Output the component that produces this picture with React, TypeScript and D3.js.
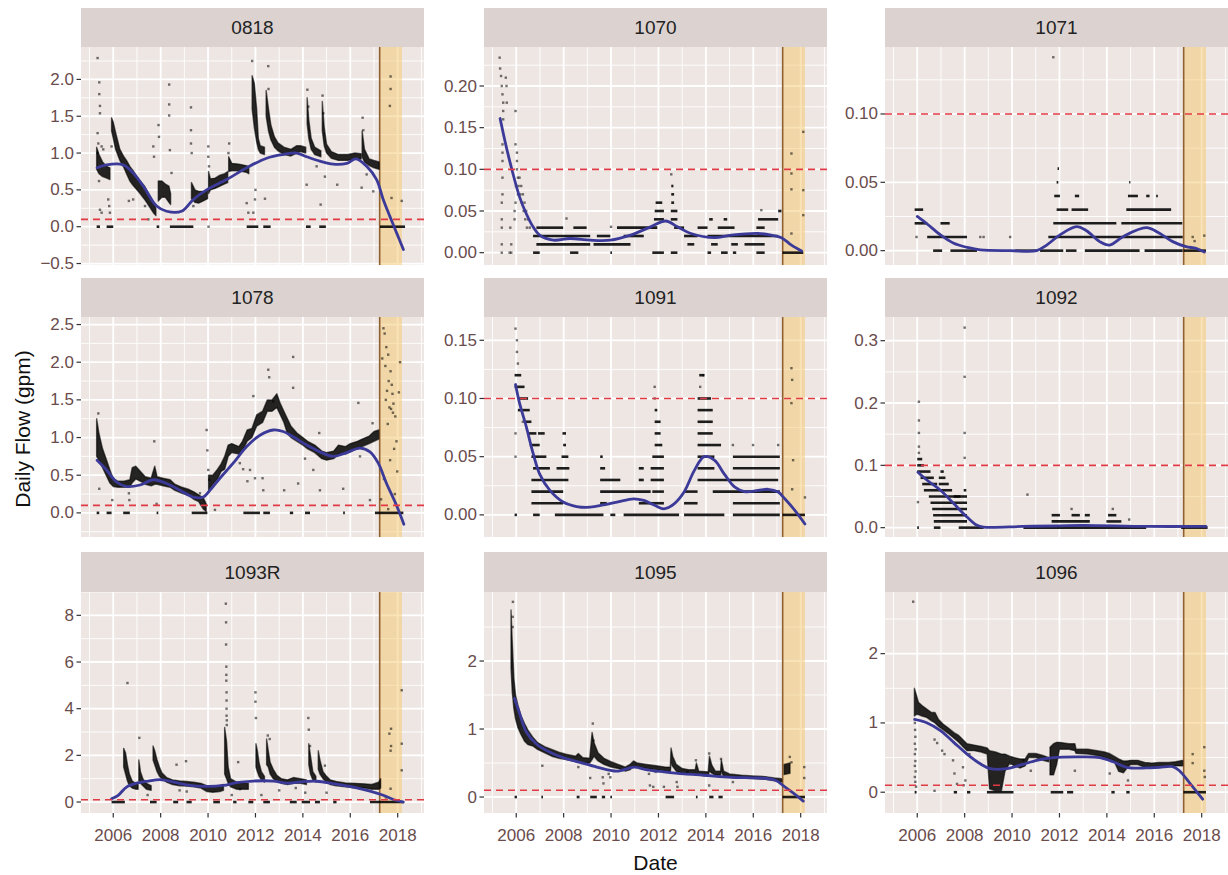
import React from 'react';
import * as d3 from 'd3';

type P = [number, number];
type B = [number, number, number];
type D = [number, number, number];

const X_TICKS = [2006, 2008, 2010, 2012, 2014, 2016, 2018];
const X_MINOR = [2005, 2007, 2009, 2011, 2013, 2015, 2017, 2019];
const BAND: [number, number] = [2017.24, 2018.18];
const THRESHOLD = 0.1;

// ---------- 0818 ----------
const smooth0818: P[] = [[2005.32,0.80],[2005.72,0.84],[2006.42,0.84],[2006.84,0.73],[2007.27,0.55],[2007.83,0.28],[2008.25,0.21],[2008.88,0.21],[2009.38,0.37],[2009.94,0.50],[2010.78,0.64],[2011.63,0.80],[2012.47,0.93],[2013.17,0.98],[2013.74,1.0],[2014.16,0.95],[2014.72,0.89],[2015.28,0.85],[2015.85,0.86],[2016.24,0.92],[2016.69,0.82],[2017.11,0.64],[2017.39,0.37],[2017.67,0.14],[2017.95,-0.08],[2018.24,-0.31]];
const cloud0818: B[][] = [
  [[2005.30,0.78,1.08],[2005.40,0.72,0.98],[2005.55,0.68,0.88],[2005.72,0.66,0.82],[2005.86,0.64,0.8]],
  [[2005.93,1.3,1.48],[2006.0,1.2,1.42],[2006.1,1.05,1.28],[2006.28,0.9,1.05],[2006.45,0.8,0.95],[2006.56,0.72,0.9],[2006.7,0.62,0.82],[2006.84,0.56,0.76],[2007.0,0.5,0.68],[2007.13,0.45,0.62],[2007.3,0.38,0.56],[2007.41,0.33,0.5],[2007.55,0.26,0.42],[2007.69,0.19,0.33],[2007.8,0.15,0.25]],
  [[2007.9,0.35,0.62],[2008.05,0.4,0.62],[2008.2,0.4,0.58],[2008.35,0.33,0.55],[2008.42,0.3,0.45]],
  [[2009.3,0.38,0.6],[2009.45,0.33,0.5],[2009.6,0.32,0.48],[2009.8,0.35,0.48],[2009.98,0.38,0.5]],
  [[2010.02,0.45,0.75],[2010.1,0.5,0.65],[2010.3,0.52,0.66],[2010.5,0.55,0.7],[2010.7,0.58,0.72],[2010.83,0.6,0.75]],
  [[2010.87,0.75,0.95],[2011.0,0.76,0.86],[2011.3,0.76,0.85],[2011.6,0.74,0.83],[2011.72,0.72,0.82]],
  [[2011.86,1.6,2.05],[2011.95,1.35,1.95],[2012.05,1.15,1.6],[2012.12,1.05,1.2],[2012.2,1.0,1.1],[2012.38,0.98,1.08]],
  [[2012.45,1.5,1.85],[2012.55,1.3,1.6],[2012.65,1.18,1.38],[2012.8,1.08,1.22],[2012.95,1.03,1.14],[2013.2,0.98,1.08],[2013.5,0.96,1.05],[2013.74,1.0,1.1],[2013.9,1.02,1.1],[2014.12,1.0,1.08]],
  [[2014.18,1.4,1.75],[2014.25,1.2,1.45],[2014.35,1.05,1.2],[2014.5,0.98,1.08],[2014.76,0.95,1.03]],
  [[2014.82,1.3,1.7],[2014.9,1.1,1.35],[2015.0,1.0,1.12],[2015.2,0.93,1.02],[2015.5,0.9,0.98],[2015.9,0.9,0.98],[2016.2,0.92,1.0],[2016.46,0.92,0.99]],
  [[2016.5,0.95,1.3],[2016.6,0.88,1.05],[2016.8,0.83,0.92],[2017.0,0.8,0.9],[2017.22,0.78,0.88]],
];
const points0818: P[] = [[2005.34,2.29],[2005.41,1.96],[2005.41,1.80],[2005.44,1.64],[2005.44,1.54],[2005.34,1.27],[2005.37,1.13],[2005.34,1.0],[2005.40,0.62],[2005.44,0.23],[2005.51,0.19],[2005.51,1.09],[2005.58,1.05],[2005.79,0.37],[2005.83,0.28],[2005.86,0.19],[2005.93,1.09],[2006.66,0.35],[2006.84,0.37],[2007.34,0.28],[2007.48,0.10],[2007.69,1.09],[2007.72,0.95],[2007.91,1.38],[2007.93,1.22],[2008.36,1.93],[2008.36,1.66],[2008.36,1.51],[2008.39,1.04],[2008.46,0.73],[2009.28,1.62],[2009.28,1.31],[2009.28,1.13],[2009.31,1.0],[2009.38,0.28],[2010.01,1.09],[2010.01,0.95],[2010.04,0.82],[2010.02,0.0],[2010.89,1.13],[2010.86,1.0],[2011.63,0.32],[2011.70,0.19],[2011.91,0.19],[2011.98,0.37],[2012.0,0.5],[2012.40,0.38],[2011.86,2.25],[2012.54,2.18],[2012.55,1.87],[2014.16,0.57],[2014.19,1.86],[2014.23,1.63],[2014.58,0.82],[2014.75,0.30],[2014.83,1.78],[2014.86,1.54],[2014.93,0.68],[2015.45,0.57],[2016.48,0.53],[2016.52,1.48],[2016.55,1.31],[2016.69,0.71],[2016.97,0.48],[2017.70,2.04],[2017.70,1.87],[2017.67,1.64],[2017.74,0.39],[2018.17,0.35]];
const dashes0818: D[] = [[0,2005.30,2005.44],[0,2005.72,2006.0],[0,2007.83,2007.94],[0,2008.39,2009.38],[0,2011.63,2012.12],[0,2012.33,2012.64],[0,2014.13,2014.33],[0,2014.69,2014.97],[0,2017.25,2018.31]];
const yTicks0818 = [-0.5, 0, 0.5, 1, 1.5, 2];

// ---------- 1070 ----------
const smooth1070: P[] = [[2005.32,0.161],[2005.58,0.127],[2005.86,0.095],[2006.14,0.067],[2006.42,0.047],[2006.71,0.031],[2006.99,0.021],[2007.56,0.015],[2008.27,0.017],[2009.12,0.015],[2009.97,0.015],[2010.82,0.021],[2011.67,0.031],[2012.30,0.038],[2012.80,0.031],[2013.37,0.023],[2014.36,0.018],[2015.07,0.021],[2016.20,0.023],[2016.76,0.021],[2017.19,0.018],[2017.61,0.009],[2018.04,0.002]];
const cloud1070: B[][] = [];
const points1070: P[] = [[2005.30,0.234],[2005.32,0.221],[2005.36,0.212],[2005.39,0.20],[2005.42,0.19],[2005.45,0.18],[2005.45,0.17],[2005.45,0.16],[2005.42,0.13],[2005.42,0.12],[2005.42,0.11],[2005.42,0.09],[2005.42,0.07],[2005.39,0.06],[2005.39,0.04],[2005.39,0.03],[2005.39,0.01],[2005.39,0.0],[2005.56,0.21],[2005.59,0.20],[2005.60,0.18],[2005.79,0.0],[2005.72,0.0],[2005.75,0.03],[2005.79,0.01],[2005.97,0.17],[2005.97,0.13],[2006.03,0.12],[2006.03,0.11],[2006.03,0.10],[2006.07,0.09],[2005.99,0.08],[2006.07,0.07],[2005.97,0.06],[2005.93,0.05],[2005.93,0.04],[2006.14,0.09],[2006.21,0.08],[2006.28,0.07],[2006.35,0.06],[2006.42,0.05],[2006.50,0.04],[2006.57,0.03],[2006.10,0.08],[2006.17,0.07],[2006.24,0.06],[2006.31,0.05],[2006.38,0.04],[2006.45,0.03],[2017.61,0.119],[2017.61,0.095],[2017.61,0.076],[2018.11,0.145],[2018.11,0.075],[2018.11,0.045],[2017.61,0.023],[2016.34,0.051],[2008.12,0.041],[2010.0,0.031],[2012.54,0.094]];
const dashes1070: D[] = [
  [0.03,2006.85,2007.98],[0.03,2008.41,2008.97],[0.03,2010.25,2011.95],[0.03,2012.66,2013.08],[0.03,2013.65,2014.07],[0.03,2014.50,2015.21],[0.03,2016.13,2016.48],
  [0.02,2006.71,2009.12],[0.02,2009.40,2009.97],[0.02,2010.53,2011.38],[0.02,2013.08,2013.65],[0.02,2014.07,2017.05],
  [0.01,2006.85,2009.12],[0.01,2009.26,2010.82],[0.01,2013.22,2013.51],[0.01,2014.22,2014.50],[0.01,2015.07,2015.35],[0.01,2015.63,2016.48],
  [0,2006.71,2006.99],[0,2008.27,2008.62],[0,2009.97,2010.04],[0,2011.74,2012.23],[0,2012.52,2012.80],[0,2014.07,2014.22],[0,2014.64,2014.92],[0,2015.14,2015.28],[0,2016.13,2016.48],[0,2017.23,2018.11],
  [0.04,2011.81,2012.23],[0.04,2012.52,2012.80],[0.04,2014.14,2014.29],[0.04,2014.75,2014.90],[0.04,2016.20,2017.05],
  [0.05,2011.84,2012.23],[0.05,2012.52,2012.80],[0.05,2017.05,2017.19],
  [0.06,2011.88,2012.16],[0.06,2012.54,2012.66],[0.07,2012.54,2012.66],[0.08,2012.54,2012.63],
];
const yTicks1070 = [0, 0.05, 0.1, 0.15, 0.2];

// ---------- 1071 ----------
const smooth1071: P[] = [[2006.0,0.025],[2006.42,0.0195],[2006.98,0.0115],[2007.54,0.0054],[2008.10,0.0024],[2008.66,0.0005],[2009.92,0],[2011.04,0],[2011.46,0.0041],[2012.02,0.0115],[2012.72,0.0176],[2013.14,0.0146],[2013.70,0.0066],[2014.12,0.0041],[2014.68,0.0102],[2015.66,0.0168],[2016.22,0.0127],[2016.78,0.0066],[2017.34,0.0029],[2017.76,0.0017],[2018.11,-0.001]];
const cloud1071: B[][] = [];
const points1071: P[] = [[2011.74,0.1415],[2005.97,0.01],[2008.66,0.01],[2008.80,0.01],[2009.92,0.01],[2017.62,0.01],[2017.70,0.007],[2018.11,0.011]];
const dashes1071: D[] = [
  [0.03,2005.89,2006.25],[0.03,2011.88,2012.37],[0.03,2012.51,2013.21],[0.03,2014.82,2016.71],
  [0.02,2005.89,2006.42],[0.02,2006.98,2007.37],[0.02,2011.74,2014.40],[0.02,2014.61,2017.18],
  [0.01,2006.42,2008.10],[0.01,2011.53,2017.20],
  [0,2006.67,2007.05],[0,2007.40,2008.52],[0,2010.13,2011.04],[0,2011.18,2012.16],[0,2012.27,2012.72],[0,2013.07,2015.38],[0,2015.59,2017.20],[0,2017.23,2018.18],
  [0.04,2011.78,2012.02],[0.04,2012.65,2012.83],[0.04,2014.89,2015.31],[0.04,2015.66,2015.80],[0.04,2016.08,2016.15],
  [0.05,2011.88,2011.95],[0.05,2014.94,2014.99],[0.06,2011.92,2011.98],
];
const yTicks1071 = [0, 0.05, 0.1];

// ---------- 1078 ----------
const smooth1078: P[] = [[2005.32,0.70],[2005.72,0.57],[2006.14,0.41],[2006.56,0.35],[2007.13,0.37],[2007.69,0.44],[2008.25,0.39],[2008.81,0.30],[2009.38,0.21],[2009.80,0.21],[2010.08,0.30],[2010.50,0.46],[2011.06,0.66],[2011.63,0.88],[2012.19,1.03],[2012.75,1.10],[2013.17,1.08],[2013.59,1.01],[2014.16,0.90],[2014.72,0.81],[2015.28,0.75],[2015.85,0.80],[2016.41,0.86],[2016.83,0.81],[2017.18,0.66],[2017.53,0.39],[2017.95,0.10],[2018.26,-0.15]];
const cloud1078: B[][] = [
  [[2005.30,0.75,1.25],[2005.40,0.7,1.05],[2005.55,0.6,0.85],[2005.70,0.5,0.72],[2005.85,0.4,0.58],[2006.00,0.35,0.45],[2006.20,0.34,0.42],[2006.45,0.34,0.42],[2006.70,0.35,0.44],[2006.80,0.4,0.6],[2006.95,0.45,0.62],[2007.15,0.42,0.55],[2007.35,0.38,0.48],[2007.60,0.36,0.46],[2007.75,0.38,0.62],[2007.85,0.38,0.48],[2008.10,0.36,0.46],[2008.40,0.34,0.44],[2008.60,0.3,0.38],[2008.90,0.26,0.34],[2009.20,0.23,0.31],[2009.40,0.18,0.28],[2009.60,0.15,0.24],[2009.80,0.05,0.2],[2009.92,0.02,0.12]],
  [[2010.02,0.3,0.5],[2010.20,0.38,0.5],[2010.40,0.45,0.58],[2010.55,0.55,0.65],[2010.70,0.58,0.75],[2010.85,0.75,0.9],[2011.00,0.8,0.92],[2011.30,0.78,0.88],[2011.45,0.82,0.95],[2011.65,0.95,1.1],[2011.85,1.0,1.12],[2012.05,1.15,1.3],[2012.30,1.2,1.35],[2012.50,1.35,1.5],[2012.70,1.35,1.5],[2012.90,1.4,1.58],[2013.05,1.3,1.45],[2013.20,1.2,1.35],[2013.35,1.05,1.25],[2013.50,1.0,1.15],[2013.75,0.95,1.06],[2014.00,0.9,1.0],[2014.20,0.85,0.95],[2014.50,0.8,0.9],[2014.80,0.72,0.82],[2015.00,0.7,0.8],[2015.30,0.72,0.82],[2015.50,0.78,0.9],[2015.80,0.78,0.88],[2016.00,0.82,0.92],[2016.30,0.85,0.95],[2016.50,0.88,0.98],[2016.80,0.92,1.02],[2017.00,0.95,1.08],[2017.20,0.98,1.1]],
];
const points1078: P[] = [[2005.37,1.32],[2005.41,0.32],[2005.96,0.17],[2006.66,0.26],[2006.68,0.17],[2007.73,0.95],[2007.83,0.12],[2009.66,0.26],[2009.94,1.10],[2009.97,0.83],[2010.01,0.57],[2010.05,0.44],[2010.29,0.04],[2011.34,0.66],[2011.48,0.58],[2011.66,0.42],[2011.77,0.57],[2011.98,0.46],[2012.30,0.46],[2011.91,1.55],[2012.33,0.30],[2012.54,1.90],[2012.58,1.80],[2012.75,1.48],[2013.21,0.30],[2013.59,2.07],[2013.59,1.66],[2013.80,0.39],[2014.09,0.72],[2014.44,0.57],[2014.72,0.30],[2014.69,1.06],[2015.70,0.32],[2016.34,1.46],[2016.41,0.75],[2016.83,0.17],[2016.94,1.19],[2017.40,2.45],[2017.45,2.38],[2017.52,2.20],[2017.35,2.05],[2017.60,2.10],[2017.48,1.95],[2017.70,1.88],[2017.62,1.75],[2017.75,1.70],[2017.55,1.62],[2017.78,1.58],[2017.50,1.50],[2017.82,1.45],[2017.65,1.40],[2017.72,1.38],[2017.80,1.33],[2017.90,1.28],[2017.58,1.18],[2017.95,0.95],[2017.85,0.85],[2017.68,0.70],[2017.42,0.45],[2017.98,0.55],[2017.88,0.25],[2017.30,0.18],[2017.60,0.05],[2018.05,1.6],[2018.10,2.0]];
const dashes1078: D[] = [[0,2005.30,2005.41],[0,2005.72,2005.93],[0,2006.42,2006.70],[0,2007.83,2007.90],[0,2009.31,2009.97],[0,2011.49,2012.19],[0,2012.33,2012.61],[0,2013.45,2013.59],[0,2014.09,2014.30],[0,2015.70,2015.77],[0,2017.04,2018.24]];
const yTicks1078 = [0, 0.5, 1, 1.5, 2, 2.5];

// ---------- 1091 ----------
const smooth1091: P[] = [[2005.97,0.112],[2006.14,0.096],[2006.42,0.076],[2006.71,0.053],[2006.99,0.035],[2007.42,0.021],[2007.98,0.011],[2008.55,0.0072],[2009.12,0.0066],[2009.68,0.0086],[2010.25,0.011],[2010.96,0.0138],[2011.38,0.0124],[2011.81,0.0086],[2012.23,0.0052],[2012.66,0.0095],[2013.08,0.0196],[2013.51,0.038],[2013.93,0.050],[2014.36,0.047],[2014.78,0.035],[2015.21,0.024],[2015.63,0.020],[2016.20,0.021],[2016.62,0.022],[2017.05,0.0196],[2017.33,0.0138],[2017.76,0.0037],[2018.18,-0.0078]];
const cloud1091: B[][] = [];
const points1091: P[] = [[2005.97,0.16],[2006.03,0.15],[2006.03,0.14],[2006.07,0.13],[2005.97,0.07],[2005.97,0.05],[2006.28,0.08],[2013.76,0.11],[2013.90,0.12],[2011.84,0.11],[2011.84,0.10],[2015.14,0.06],[2015.99,0.06],[2017.05,0.06],[2017.61,0.126],[2017.64,0.116],[2017.61,0.096],[2017.68,0.047],[2017.64,0.022],[2018.18,0.015]];
const dashes1091: D[] = [
  [0.12,2005.93,2006.21],[0.11,2005.93,2006.35],[0.10,2006.07,2006.50],[0.09,2006.07,2006.57],[0.08,2006.35,2006.64],
  [0.07,2006.50,2006.85],[0.07,2006.92,2007.20],[0.07,2007.95,2008.10],
  [0.06,2006.57,2006.99],[0.06,2007.98,2008.10],
  [0.05,2006.64,2007.27],[0.05,2007.91,2008.20],[0.05,2009.54,2009.65],
  [0.04,2006.71,2007.42],[0.04,2007.70,2008.24],[0.04,2009.54,2009.75],
  [0.03,2006.64,2008.20],[0.03,2009.54,2010.39],[0.03,2011.17,2011.38],[0.03,2011.67,2012.23],
  [0.02,2006.64,2007.98],[0.02,2009.54,2011.67],[0.02,2011.74,2012.23],[0.02,2013.08,2013.65],
  [0.01,2006.64,2007.98],[0.01,2009.54,2009.82],[0.01,2011.17,2012.23],[0.01,2013.08,2013.65],
  [0,2005.93,2006.03],[0,2006.71,2006.99],[0,2007.63,2009.68],[0,2009.97,2010.18],[0,2010.53,2012.87],[0,2013.08,2014.78],[0,2015.14,2017.12],[0,2017.23,2018.18],
  [0.12,2013.72,2013.93],[0.10,2013.65,2014.22],[0.09,2013.65,2014.29],[0.08,2013.65,2014.29],[0.07,2013.65,2014.29],[0.06,2013.65,2014.64],[0.05,2013.65,2014.36],[0.04,2013.65,2014.36],
  [0.03,2013.65,2017.05],[0.02,2014.29,2017.12],[0.01,2015.14,2017.12],[0.05,2015.14,2017.12],[0.04,2015.14,2017.12],
  [0.09,2011.84,2011.95],[0.08,2011.84,2012.09],[0.07,2011.84,2012.09],[0.06,2011.84,2012.16],[0.05,2011.74,2012.23],[0.04,2011.17,2011.38],[0.04,2011.67,2012.23],
];
const yTicks1091 = [0, 0.05, 0.1, 0.15];

// ---------- 1092 ----------
const smooth1092: P[] = [[2006.03,0.089],[2006.42,0.076],[2006.98,0.060],[2007.54,0.0386],[2008.10,0.017],[2008.52,0.0037],[2008.80,0.001],[2010.48,0.002],[2012.02,0.003],[2013.0,0.0037],[2015.66,0.002],[2018.18,0.002]];
const cloud1092: B[][] = [];
const points1092: P[] = [[2006.07,0.202],[2006.07,0.172],[2006.07,0.152],[2006.03,0.041],[2008.00,0.321],[2008.00,0.242],[2008.00,0.152],[2008.00,0.112],[2010.65,0.053],[2014.94,0.013],[2006.07,0.13],[2006.07,0.12],[2012.51,0.03],[2014.25,0.03]];
const dashes1092: D[] = [
  [0.11,2006.00,2006.21],[0.10,2006.00,2006.28],[0.09,2006.00,2006.56],[0.09,2006.98,2007.12],
  [0.08,2006.14,2006.70],[0.08,2006.91,2007.19],[0.07,2006.21,2006.84],[0.07,2006.91,2007.33],
  [0.06,2006.28,2006.98],[0.06,2006.98,2007.47],[0.06,2007.96,2008.07],
  [0.05,2006.49,2007.82],[0.05,2007.54,2008.10],[0.04,2006.56,2008.10],[0.03,2006.63,2008.10],[0.02,2006.67,2008.10],[0.01,2006.70,2008.10],
  [0,2006.00,2006.07],[0,2006.70,2006.98],[0,2007.75,2008.80],[0,2010.48,2015.66],[0,2017.13,2018.25],
  [0.01,2011.67,2013.28],[0.01,2013.98,2014.61],
  [0.02,2011.67,2012.02],[0.02,2012.51,2012.86],[0.02,2013.07,2013.28],[0.02,2014.05,2014.40],
];
const yTicks1092 = [0, 0.1, 0.2, 0.3];

// ---------- 1093R ----------
const smooth1093R: P[] = [[2005.93,0.14],[2006.21,0.29],[2006.56,0.64],[2006.98,0.81],[2007.48,0.90],[2007.97,0.96],[2008.53,0.86],[2009.09,0.74],[2009.94,0.67],[2010.64,0.71],[2011.20,0.83],[2011.91,0.90],[2012.75,0.90],[2013.31,0.81],[2013.88,0.86],[2014.58,0.89],[2015.28,0.79],[2016.13,0.64],[2016.83,0.47],[2017.39,0.29],[2017.81,0.11],[2018.24,0.0]];
const cloud1093R: B[][] = [
  [[2006.44,1.5,2.3],[2006.52,1.2,2.1],[2006.60,0.9,1.6],[2006.68,0.7,1.2],[2006.80,0.6,0.9],[2006.95,0.55,0.8],[2007.05,0.55,0.75]],
  [[2007.08,0.9,1.8],[2007.15,0.8,1.3],[2007.25,0.7,1.0],[2007.40,0.55,0.8],[2007.60,0.5,0.7]],
  [[2007.68,1.8,2.4],[2007.75,1.6,2.2],[2007.85,1.3,1.8],[2007.95,1.1,1.5],[2008.05,1.0,1.25],[2008.25,0.85,1.05],[2008.5,0.75,0.95],[2008.8,0.7,0.9],[2009.1,0.68,0.88],[2009.4,0.65,0.85],[2009.7,0.6,0.8],[2009.95,0.45,0.7],[2010.2,0.42,0.68],[2010.5,0.45,0.7],[2010.65,0.5,0.75]],
  [[2010.70,1.2,3.2],[2010.78,1.0,2.6],[2010.85,0.8,1.5],[2010.95,0.65,1.0],[2011.2,0.55,0.85],[2011.5,0.55,0.8],[2011.7,0.55,0.8]],
  [[2012.02,1.5,2.5],[2012.08,1.3,2.2],[2012.15,1.1,1.7],[2012.25,0.95,1.3],[2012.38,0.85,1.1]],
  [[2012.47,1.6,2.7],[2012.54,1.5,2.2],[2012.62,1.2,1.7],[2012.75,1.0,1.4],[2012.90,0.9,1.15],[2013.1,0.8,1.0],[2013.35,0.75,0.95],[2013.6,0.8,1.05],[2013.9,0.8,1.0],[2014.15,0.75,0.95]],
  [[2014.25,1.6,2.5],[2014.32,1.2,2.0],[2014.42,0.95,1.3],[2014.55,0.85,1.1]],
  [[2014.65,1.4,2.2],[2014.72,1.2,1.8],[2014.85,1.0,1.3],[2015.0,0.85,1.1],[2015.15,0.75,0.95],[2015.4,0.7,0.88],[2015.8,0.65,0.82],[2016.2,0.6,0.8],[2016.6,0.6,0.78],[2016.9,0.55,0.75],[2017.2,0.55,0.85],[2017.28,0.6,1.0]],
];
const points1093R: P[] = [[2006.60,5.1],[2007.10,2.75],[2007.45,0.3],[2008.67,1.6],[2009.07,1.75],[2008.8,0.5],[2009.1,0.45],[2010.75,8.5],[2010.76,7.7],[2010.76,6.75],[2010.77,5.8],[2010.77,5.45],[2010.77,5.2],[2010.78,4.7],[2010.78,4.35],[2010.78,4.0],[2010.78,3.7],[2010.79,3.5],[2010.79,3.3],[2011.0,0.3],[2011.27,1.71],[2011.35,0.55],[2012.0,4.7],[2012.0,4.3],[2012.02,3.6],[2012.25,0.3],[2012.52,2.85],[2012.6,2.7],[2013.0,0.5],[2013.7,0.6],[2014.23,3.6],[2014.25,3.1],[2014.3,2.4],[2014.1,0.4],[2014.93,1.56],[2015.0,0.4],[2017.65,2.93],[2017.72,3.14],[2017.72,2.4],[2017.70,2.2],[2017.70,0.57],[2018.17,4.79],[2018.17,2.5],[2018.17,1.36],[2017.5,0.2]];
const dashes1093R: D[] = [[0,2005.93,2006.49],[0,2007.55,2007.83],[0,2008.53,2008.74],[0,2009.09,2009.31],[0,2010.22,2010.50],[0,2011.06,2011.20],[0,2011.70,2011.91],[0,2012.33,2012.61],[0,2013.45,2013.74],[0,2013.95,2014.30],[0,2014.51,2014.72],[0,2015.28,2015.42],[0,2016.83,2018.24]];
const yTicks1093R = [0, 2, 4, 6, 8];

// ---------- 1095 ----------
const smooth1095: P[] = [[2005.93,1.45],[2006.14,1.23],[2006.42,0.96],[2006.85,0.78],[2007.42,0.66],[2007.98,0.58],[2008.69,0.51],[2009.40,0.44],[2010.25,0.38],[2010.96,0.44],[2011.52,0.40],[2012.23,0.37],[2013.08,0.34],[2013.93,0.32],[2015.07,0.29],[2016.20,0.28],[2016.91,0.25],[2017.33,0.15],[2017.76,0.04],[2018.11,-0.06]];
const cloud1095: B[][] = [
  [[2005.78,1.9,2.75],[2005.83,1.55,2.3],[2005.90,1.3,1.75],[2005.97,1.15,1.5],[2006.07,1.02,1.35],[2006.20,0.92,1.2],[2006.35,0.82,1.08],[2006.50,0.77,0.98],[2006.70,0.75,0.88],[2006.90,0.7,0.8],[2007.20,0.65,0.74],[2007.50,0.6,0.7],[2007.80,0.57,0.66],[2008.10,0.55,0.63],[2008.50,0.52,0.6],[2008.62,0.52,0.64],[2008.80,0.5,0.58],[2009.10,0.5,0.57],[2009.20,0.55,0.95],[2009.28,0.6,0.8],[2009.45,0.53,0.65],[2009.70,0.48,0.57],[2010.00,0.44,0.52],[2010.30,0.42,0.48],[2010.60,0.38,0.44],[2010.80,0.4,0.48],[2010.95,0.45,0.53],[2011.10,0.44,0.5],[2011.50,0.42,0.48],[2011.90,0.4,0.46],[2012.30,0.38,0.44],[2012.50,0.36,0.44],[2012.53,0.5,0.72],[2012.60,0.45,0.6],[2012.75,0.38,0.48],[2013.00,0.35,0.42],[2013.30,0.34,0.4],[2013.55,0.33,0.4],[2013.60,0.35,0.5],[2013.70,0.32,0.38],[2014.10,0.31,0.37],[2014.15,0.38,0.6],[2014.25,0.35,0.47],[2014.40,0.32,0.38],[2014.62,0.32,0.38],[2014.65,0.38,0.55],[2014.75,0.3,0.38],[2015.00,0.29,0.34],[2015.50,0.28,0.32],[2016.00,0.27,0.31],[2016.50,0.26,0.3],[2016.90,0.24,0.28],[2017.20,0.22,0.27]],
  [[2017.30,0.33,0.48],[2017.55,0.35,0.5]],
];
const points1095: P[] = [[2005.86,2.87],[2005.85,2.65],[2005.85,2.5],[2007.10,0.46],[2008.62,0.44],[2009.23,1.08],[2009.26,0.83],[2009.12,0.28],[2009.65,0.29],[2009.68,0.2],[2009.90,0.34],[2009.97,0.29],[2011.60,0.34],[2011.64,0.17],[2011.78,0.15],[2011.88,0.37],[2012.23,0.15],[2012.77,0.22],[2012.80,0.15],[2013.22,0.37],[2013.58,0.54],[2014.14,0.64],[2014.14,0.17],[2014.64,0.56],[2015.14,0.22],[2017.54,0.59],[2017.61,0.51],[2018.15,0.44],[2018.15,0.28]];
const dashes1095: D[] = [[0,2005.93,2006.03],[0,2007.06,2007.13],[0,2008.55,2008.67],[0,2009.12,2009.40],[0,2009.61,2009.75],[0,2009.97,2010.04],[0,2012.30,2012.66],[0,2013.58,2013.65],[0,2014.14,2014.32],[0,2014.53,2014.71],[0,2017.23,2018.18]];
const yTicks1095 = [0, 1, 2];

// ---------- 1096 ----------
const smooth1096: P[] = [[2005.89,1.05],[2006.42,1.0],[2006.98,0.89],[2007.54,0.72],[2008.10,0.55],[2008.66,0.41],[2009.08,0.34],[2009.78,0.34],[2010.34,0.39],[2011.04,0.46],[2011.74,0.50],[2012.86,0.51],[2013.70,0.50],[2014.26,0.44],[2014.82,0.36],[2015.66,0.35],[2016.22,0.36],[2016.78,0.37],[2017.06,0.31],[2017.48,0.14],[2018.04,-0.10]];
const cloud1096: B[][] = [
  [[2005.88,1.1,1.5],[2005.95,1.12,1.42],[2006.05,1.12,1.3],[2006.20,1.1,1.25],[2006.40,1.08,1.2],[2006.60,1.03,1.15],[2006.75,1.0,1.15],[2006.90,0.95,1.05],[2007.10,0.9,0.98],[2007.30,0.85,0.93],[2007.55,0.78,0.86],[2007.75,0.72,0.82],[2007.95,0.65,0.75],[2008.10,0.6,0.7],[2008.40,0.6,0.68],[2008.70,0.58,0.66],[2008.95,0.55,0.64],[2009.05,0.05,0.6],[2009.30,0.02,0.58],[2009.55,0.02,0.55],[2009.70,0.3,0.55],[2009.90,0.42,0.52],[2010.10,0.38,0.5],[2010.35,0.35,0.48],[2010.55,0.38,0.48],[2010.70,0.5,0.56],[2011.00,0.5,0.56],[2011.30,0.46,0.53],[2011.55,0.44,0.5]],
  [[2011.60,0.25,0.65],[2011.75,0.25,0.7],[2011.88,0.4,0.72],[2012.00,0.62,0.72],[2012.40,0.62,0.7],[2012.65,0.6,0.7],[2012.70,0.56,0.62],[2013.20,0.55,0.62],[2013.60,0.53,0.6],[2013.90,0.5,0.58],[2014.10,0.48,0.56],[2014.30,0.45,0.52],[2014.50,0.3,0.48],[2014.70,0.28,0.45],[2014.85,0.35,0.45],[2015.00,0.4,0.46],[2015.30,0.4,0.46],[2015.60,0.36,0.43],[2015.90,0.35,0.42],[2016.20,0.36,0.43],[2016.60,0.37,0.43],[2016.90,0.38,0.44],[2017.20,0.38,0.46]],
];
const points1096: P[] = [[2005.83,2.75],[2005.90,1.0],[2005.91,0.9],[2005.92,0.8],[2005.90,0.7],[2005.93,0.62],[2005.90,0.55],[2005.92,0.45],[2005.90,0.38],[2005.93,0.3],[2005.90,0.22],[2005.92,0.15],[2005.95,0.08],[2006.73,0.02],[2006.73,0.76],[2006.84,0.71],[2007.05,0.6],[2007.15,0.55],[2007.51,0.46],[2007.57,0.27],[2007.68,0.12],[2007.93,0.36],[2007.96,0.1],[2008.03,0.17],[2008.20,0.55],[2012.65,0.31],[2014.12,0.27],[2014.89,0.17],[2010.79,0.31],[2010.48,0.46],[2017.62,0.55],[2017.62,0.42],[2018.11,0.65],[2018.11,0.31],[2018.13,0.22]];
const dashes1096: D[] = [[0,2005.89,2005.97],[0,2007.54,2007.68],[0,2008.10,2008.24],[0,2008.94,2010.06],[0,2011.63,2012.16],[0,2012.32,2012.58],[0,2014.19,2014.33],[0,2014.82,2014.96],[0,2017.23,2018.18]];
const yTicks1096 = [0, 1, 2];

// ---------- facet table ----------
interface Facet { id: string; smooth: P[]; cloud: B[][]; points: P[]; dashes: D[]; yDomain: [number, number]; yTicks: number[]; fmt: string; }
const FACETS: Facet[] = [
  { id: '0818', smooth: smooth0818, cloud: cloud0818, points: points0818, dashes: dashes0818, yDomain: [-0.52, 2.44], yTicks: yTicks0818, fmt: '.1f' },
  { id: '1070', smooth: smooth1070, cloud: cloud1070, points: points1070, dashes: dashes1070, yDomain: [-0.0148, 0.2468], yTicks: yTicks1070, fmt: '.2f' },
  { id: '1071', smooth: smooth1071, cloud: cloud1071, points: points1071, dashes: dashes1071, yDomain: [-0.0105, 0.149], yTicks: yTicks1071, fmt: '.2f' },
  { id: '1078', smooth: smooth1078, cloud: cloud1078, points: points1078, dashes: dashes1078, yDomain: [-0.32, 2.60], yTicks: yTicks1078, fmt: '.1f' },
  { id: '1091', smooth: smooth1091, cloud: cloud1091, points: points1091, dashes: dashes1091, yDomain: [-0.019, 0.170], yTicks: yTicks1091, fmt: '.2f' },
  { id: '1092', smooth: smooth1092, cloud: cloud1092, points: points1092, dashes: dashes1092, yDomain: [-0.015, 0.338], yTicks: yTicks1092, fmt: '.1f' },
  { id: '1093R', smooth: smooth1093R, cloud: cloud1093R, points: points1093R, dashes: dashes1093R, yDomain: [-0.47, 9.0], yTicks: yTicks1093R, fmt: 'd' },
  { id: '1095', smooth: smooth1095, cloud: cloud1095, points: points1095, dashes: dashes1095, yDomain: [-0.235, 3.015], yTicks: yTicks1095, fmt: 'd' },
  { id: '1096', smooth: smooth1096, cloud: cloud1096, points: points1096, dashes: dashes1096, yDomain: [-0.30, 2.89], yTicks: yTicks1096, fmt: 'd' },
];

// ---------- layout ----------
const X_DOMAIN: [number, number] = [2004.64, 2019.11];
const COL_LEFT = [81, 484, 885];
const PANEL_W = 343;
const STRIP_TOP = [8, 278, 552];
const PANEL_TOP = [47, 317, 592];
const PANEL_BOTTOM = [265, 537, 813];
const FONT = "'Liberation Sans', Arial, Helvetica, sans-serif";
const PANEL_BG = '#ede6e3';
const STRIP_BG = '#dcd3d0';
const TICK_COL = '#6a4c4c';
const SMOOTH_COL = '#3c3a98';

function minorTicks(t: number[], dom: [number, number]): number[] {
  const step = t[1] - t[0];
  const out: number[] = [];
  for (let k = -1; k < t.length; k++) {
    const v = t[0] + step * k + step / 2;
    if (v >= dom[0] && v <= dom[1]) out.push(v);
  }
  return out;
}

function Panel({ f, i }: { f: Facet; i: number }) {
  const col = i % 3, row = Math.floor(i / 3);
  const x0 = COL_LEFT[col], x1 = x0 + PANEL_W;
  const top = PANEL_TOP[row], bot = PANEL_BOTTOM[row];
  const x = d3.scaleLinear().domain(X_DOMAIN).range([x0, x1]);
  const y = d3.scaleLinear().domain(f.yDomain).range([bot, top]);
  const fmt = d3.format(f.fmt);
  const area = d3.area<B>().x(d => x(d[0])).y0(d => y(d[1])).y1(d => y(d[2]));
  const line = d3.line<P>().x(d => x(d[0])).y(d => y(d[1])).curve(d3.curveCatmullRom.alpha(0.5));
  const clipId = `clip-${i}`;
  const minY = minorTicks(f.yTicks, f.yDomain);
  return (
    <g>
      <rect x={x0} y={STRIP_TOP[row]} width={PANEL_W} height={top - STRIP_TOP[row]} fill={STRIP_BG} />
      <text x={(x0 + x1) / 2} y={(STRIP_TOP[row] + top) / 2} textAnchor="middle" dominantBaseline="central" fontSize={19} fill="#222">{f.id}</text>
      <defs>
        <clipPath id={clipId}><rect x={x0} y={top} width={PANEL_W} height={bot - top} /></clipPath>
      </defs>
      <rect x={x0} y={top} width={PANEL_W} height={bot - top} fill={PANEL_BG} />
      <g clipPath={`url(#${clipId})`}>
        {minY.map(v => <line key={'my' + v} x1={x0} x2={x1} y1={y(v)} y2={y(v)} stroke="#fff" strokeWidth={0.9} />)}
        {X_MINOR.map(v => <line key={'mx' + v} x1={x(v)} x2={x(v)} y1={top} y2={bot} stroke="#fff" strokeWidth={0.9} />)}
        {f.yTicks.map(v => <line key={'gy' + v} x1={x0} x2={x1} y1={y(v)} y2={y(v)} stroke="#fff" strokeWidth={1.8} />)}
        {X_TICKS.map(v => <line key={'gx' + v} x1={x(v)} x2={x(v)} y1={top} y2={bot} stroke="#fff" strokeWidth={1.8} />)}
        <rect x={x(BAND[0])} y={top} width={x(BAND[1]) - x(BAND[0])} height={bot - top} fill="#f5c76e" opacity={0.5} />
        <line x1={x(BAND[0])} x2={x(BAND[0])} y1={top} y2={bot} stroke="#8f5f30" strokeWidth={1.6} />
        {f.cloud.map((seg, k) => <path key={'c' + k} d={area(seg) || ''} fill="#000" fillOpacity={0.85} stroke="#000" strokeOpacity={0.6} strokeWidth={1.4} strokeLinejoin="round" />)}
        {f.dashes.map((d, k) => <line key={'d' + k} x1={x(d[1])} x2={x(d[2])} y1={y(d[0])} y2={y(d[0])} stroke="#000" strokeOpacity={0.88} strokeWidth={2.6} />)}
        {f.points.map((p, k) => <rect key={'p' + k} x={x(p[0]) - 1.2} y={y(p[1]) - 1.2} width={2.4} height={2.4} fill="#000" fillOpacity={0.55} />)}
        <path d={line(f.smooth) || ''} fill="none" stroke={SMOOTH_COL} strokeWidth={2.8} strokeLinejoin="round" strokeLinecap="round" />
        <line x1={x0} x2={x1} y1={y(THRESHOLD)} y2={y(THRESHOLD)} stroke="#e23a44" strokeWidth={1.6} strokeDasharray="7,5" />
      </g>
      {f.yTicks.map(v => (
        <g key={'yt' + v}>
          <line x1={x0 - 4.5} x2={x0} y1={y(v)} y2={y(v)} stroke="#333" strokeWidth={1.2} />
          <text x={x0 - 7} y={y(v)} textAnchor="end" dominantBaseline="central" fontSize={17} fill={TICK_COL}>{fmt(v)}</text>
        </g>
      ))}
      {row === 2 && X_TICKS.map(v => (
        <g key={'xt' + v}>
          <line x1={x(v)} x2={x(v)} y1={bot} y2={bot + 4.5} stroke="#333" strokeWidth={1.2} />
          <text x={x(v)} y={bot + 22} textAnchor="middle" dominantBaseline="central" fontSize={17} fill={TICK_COL}>{v}</text>
        </g>
      ))}
    </g>
  );
}

export default function App() {
  return (
    <svg width={1228} height={875} style={{ position: 'absolute', left: 0, top: 0, display: 'block' }} fontFamily={FONT}>
      <rect x={0} y={0} width={1228} height={875} fill="#fff" />
      {FACETS.map((f, i) => <Panel key={f.id} f={f} i={i} />)}
      <text transform="translate(22,429) rotate(-90)" textAnchor="middle" dominantBaseline="central" fontSize={21} fill="#111">Daily Flow (gpm)</text>
      <text x={655.5} y={862} textAnchor="middle" dominantBaseline="central" fontSize={21} fill="#111">Date</text>
    </svg>
  );
}
